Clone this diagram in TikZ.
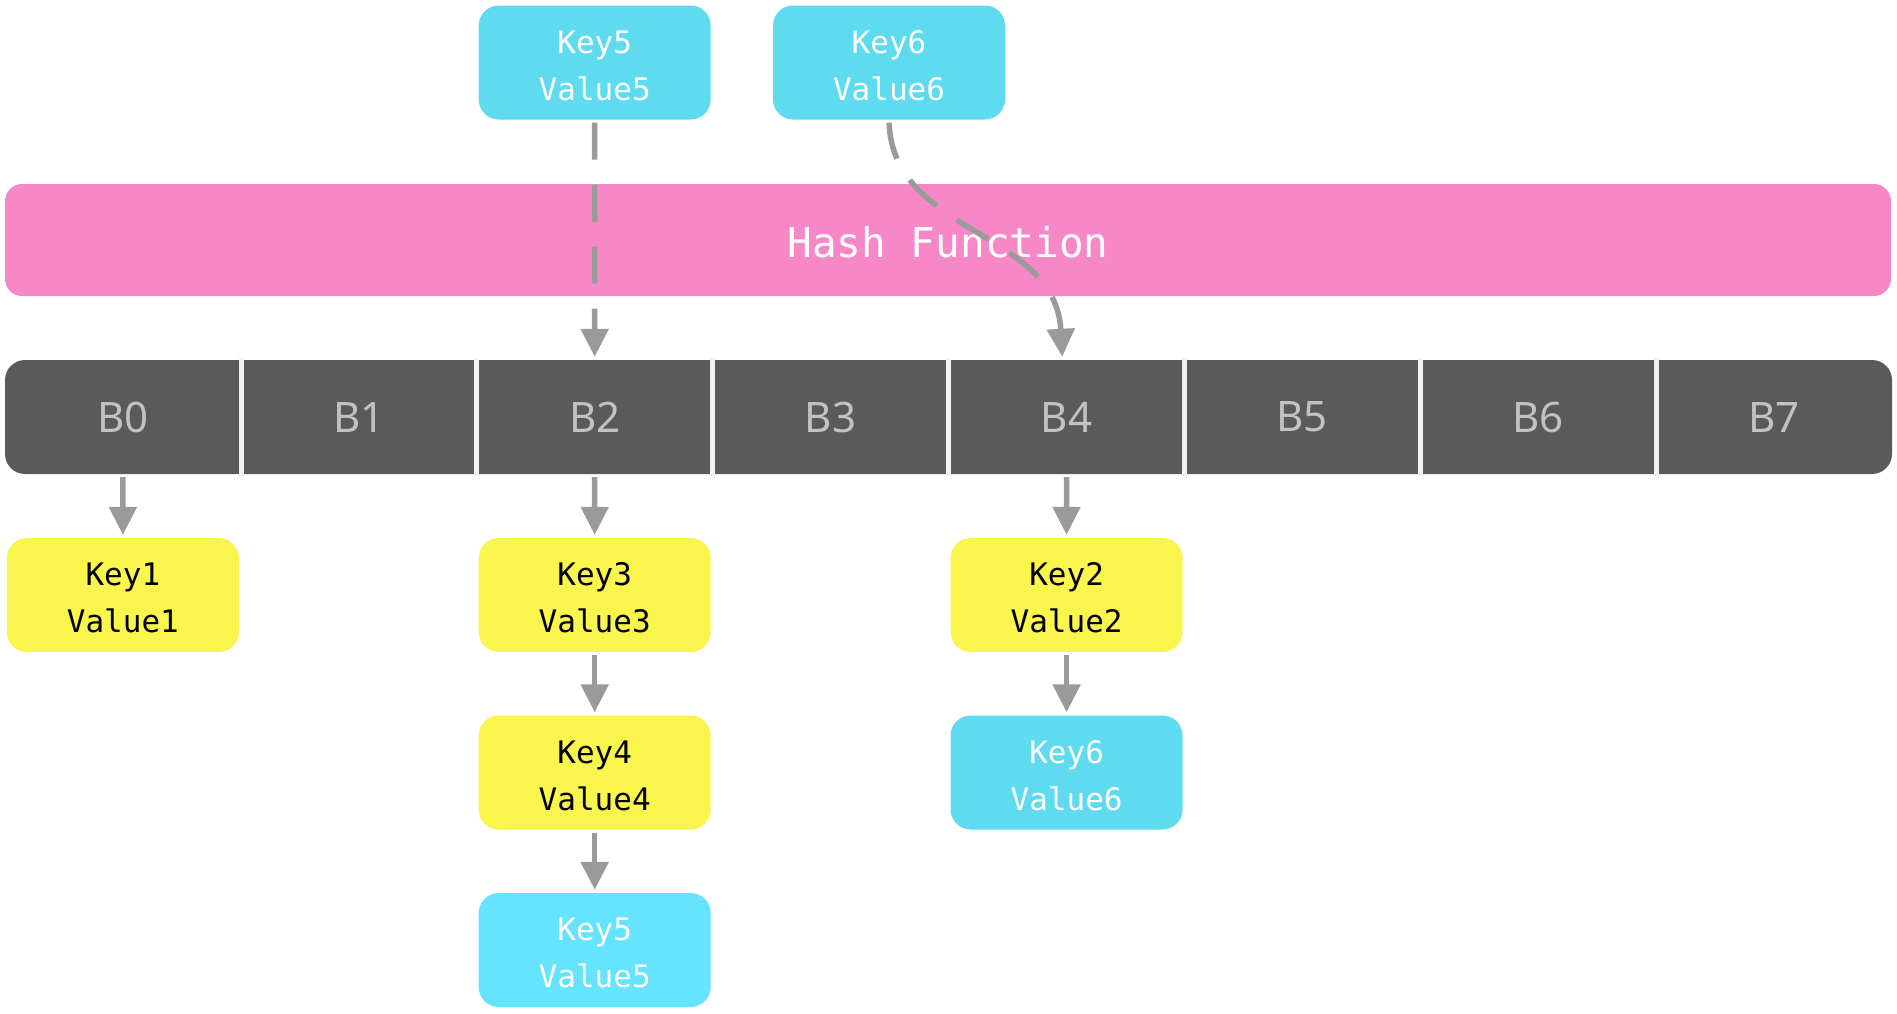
\documentclass[tikz,border=0pt]{standalone}
\usepackage{fontspec}
\usetikzlibrary{arrows.meta}
\newfontfamily\monofnt{DejaVu Sans Mono}
\newfontfamily\bfnt{Noto Sans}
\definecolor{cyanA}{HTML}{5FDBEF}
\definecolor{cyanB}{HTML}{66E3FF}
\definecolor{yel}{HTML}{F9F54D}
\definecolor{pinkH}{HTML}{F788C8}
\definecolor{darkB}{HTML}{5A5A5A}
\definecolor{blab}{HTML}{C2C2C2}
\definecolor{arr}{HTML}{9A9A9A}
\newcommand\kvtext[2]{\rule{0pt}{29pt}#1\\#2}
\begin{document}
\begin{tikzpicture}[x=1pt,y=-1pt,
 kv/.style={rounded corners=20pt, minimum width=232pt, minimum height=114pt, inner sep=0pt, align=center, font=\monofnt\fontsize{31}{47}\selectfont},
 kvy/.style={kv, fill=yel, text=black},
 kvc/.style={kv, fill=cyanA, text=white},
 kvcb/.style={kv, fill=cyanB, text=white},
 bucket/.style={minimum width=235.875pt, minimum height=114pt, inner sep=0pt, text=blab, font=\bfnt\fontsize{42}{50}\selectfont},
 link/.style={draw=arr, line width=5.5pt, -{Triangle[length=28pt,width=27pt]}, shorten <=3pt, shorten >=3pt},
 dlink/.style={link, dash pattern=on 37pt off 25pt},
]
\useasboundingbox (0,0) rectangle (1897,1013);
% bucket row
\fill[darkB, rounded corners=20pt] (5,360) rectangle (1892,474);
\foreach \i in {0,...,7}
  \node[bucket] (B\i) at ({5+235.875*(\i+0.5)},417) {B\i};
\foreach \i in {0,...,6}
  \draw[white!95!black, line width=5pt] ([yshift=2pt]B\i.north east) -- ([yshift=-2pt]B\i.south east);
% hash function
\node[fill=pinkH, rounded corners=17pt, minimum width=1886pt, minimum height=112pt, inner sep=0pt, text=white, font=\monofnt\fontsize{41}{50}\selectfont] (hash) at (948,240) {\rule{0pt}{36pt}Hash Function};
% key/value boxes
\node[kvc] (k5t) at (594.7,62.5) {\kvtext{Key5}{Value5}};
\node[kvc] (k6t) at (889,62.5) {\kvtext{Key6}{Value6}};
\node[kvy] (k1) at (122.9,595) {\kvtext{Key1}{Value1}};
\node[kvy] (k3) at (594.7,595) {\kvtext{Key3}{Value3}};
\node[kvy] (k2) at (1066.6,595) {\kvtext{Key2}{Value2}};
\node[kvy] (k4) at (594.7,772.5) {\kvtext{Key4}{Value4}};
\node[kvc] (k6b) at (1066.6,772.5) {\kvtext{Key6}{Value6}};
\node[kvcb] (k5b) at (594.7,950) {\kvtext{Key5}{Value5}};
% connectors
\draw[link] (B0) -- (k1);
\draw[link] (B2) -- (k3);
\draw[link] (B4) -- (k2);
\draw[link] (k3) -- (k4);
\draw[link] (k4) -- (k5b);
\draw[link] (k2) -- (k6b);
\draw[dlink] (k5t) -- (B2);
\draw[dlink] (k6t.south) .. controls +(4,115) and +(-7,-130) .. ([xshift=-4pt]B4.north);
\end{tikzpicture}
\end{document}
